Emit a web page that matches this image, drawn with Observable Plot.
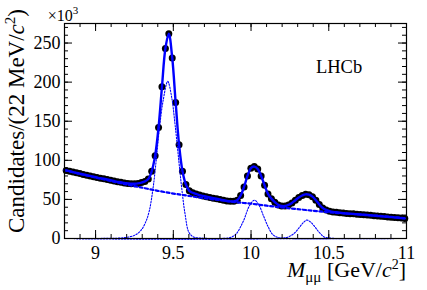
<!DOCTYPE html>
<html><head><meta charset="utf-8">
<script src="https://cdn.jsdelivr.net/npm/d3@7"></script>
<script src="https://cdn.jsdelivr.net/npm/@observablehq/plot@0.6"></script>
<style>body{margin:0;background:#fff} svg{display:block}</style>
</head><body><div id="chart"></div>
<script>
// Histogram: 100 bins of 22 MeV from 8.8 to 11.0 GeV, counts in units of 10^3
const binLow = 8.8;
const binWidth = 0.022;
const counts = [
  87, 86, 85, 84, 83, 82, 81, 80, 79, 78,
  77, 76.5, 75.5, 74.5, 73.5, 72.5, 72, 71, 70.5, 70,
  70, 70.5, 71.5, 73, 76, 86, 106, 142, 194, 243,
  262, 231, 174, 120, 86, 69, 61, 58.5, 57, 55.5,
  54.5, 53.5, 52.5, 51.5, 51, 50, 49, 48, 47.5, 47.5,
  49, 55, 66, 80, 90, 92, 89, 80, 68, 57,
  51, 46.5, 43, 41.5, 41.5, 43, 45.5, 49, 52.5, 55,
  56.5, 56, 53.5, 49, 43.5, 39, 36.5, 35, 34, 33.5,
  33, 32.5, 32, 31.8, 31.5, 31, 30.7, 30.3, 30, 29.6,
  29.2, 28.8, 28.4, 28, 27.6, 27.3, 26.9, 26.5, 26.1, 25.7
];
// Background component (dashed)
const bgMass   = [8.8, 8.9, 9.0, 9.1, 9.2, 9.3, 9.4, 9.5, 9.6, 9.7, 9.8, 9.9, 10.0, 10.1, 10.2, 10.3, 10.4, 10.5, 10.6, 10.7, 10.8, 10.9, 11.0];
const bgValues = [87.5, 82.5, 78, 73.5, 69, 65, 61, 57.5, 54.5, 51.5, 49, 46.5, 44.5, 42, 39.7, 37.5, 35.5, 33.5, 32, 30.7, 29.3, 27.8, 25.6];
// Signal components (dotted)
const sig1Mass   = [8.8, 9.1, 9.15, 9.2, 9.25, 9.29, 9.32, 9.345, 9.37, 9.39, 9.41, 9.435, 9.464, 9.49, 9.51, 9.53, 9.552, 9.575, 9.6, 9.63, 9.7, 9.8, 11];
const sig1Values = [0, 0.2, 0.5, 1.5, 4, 10, 20, 35, 65, 100, 140, 177, 201, 180, 148, 110, 68, 32, 8, 2, 0.3, 0, 0];
const sig2Mass   = [8.8, 9.8, 9.86, 9.9, 9.95, 9.99, 10.022, 10.05, 10.08, 10.11, 10.14, 10.18, 10.25, 11];
const sig2Values = [0, 0, 1, 5, 22, 42, 49, 43, 29, 15, 5, 1, 0, 0];
const sig3Mass   = [8.8, 10.2, 10.24, 10.28, 10.31, 10.335, 10.358, 10.38, 10.41, 10.44, 10.47, 10.52, 10.6, 11];
const sig3Values = [0, 0.5, 2, 7, 14, 20, 23.5, 21.5, 15, 7.5, 2, 0.3, 0, 0];

const xTicks = [9, 9.5, 10, 10.5, 11];
const xTickLabels = ["9", "9.5", "10", "10.5", "11"];
const yTicks = [0, 50, 100, 150, 200, 250];
const yTickLabels = ["0", "50", "100", "150", "200", "250"];

const W = 427, H = 290, mL = 64, mR = 21, mT = 23, mB = 52;
const innerW = W - mL - mR, innerH = H - mT - mB;

const data = counts.map((v, i) => ({m: binLow + binWidth * (i + 0.5), v}));
const bg = bgMass.map((m, i) => ({m, v: bgValues[i]}));
const s1 = sig1Mass.map((m, i) => ({m, v: sig1Values[i]}));
const s2 = sig2Mass.map((m, i) => ({m, v: sig2Values[i]}));
const s3 = sig3Mass.map((m, i) => ({m, v: sig3Values[i]}));

const xMinor = d3.range(88, 111).map(d => d / 10);
const yMinor = d3.range(0, 28).map(d => d * 10);

const font = "'Liberation Serif', 'Times New Roman', serif";
const blue = "#0000ff";

const chart = Plot.plot({
  width: W, height: H,
  marginLeft: mL, marginRight: mR, marginTop: mT, marginBottom: mB,
  x: {domain: [8.8, 11]},
  y: {domain: [0, 275]},
  style: {fontFamily: font, fontSize: "18px", background: "white", color: "black"},
  marks: [
    Plot.dot(data, {x: "m", y: "v", r: 3.5, fill: "black", stroke: "none"}),
    Plot.line(s1, {x: "m", y: "v", stroke: blue, strokeWidth: 1.1, strokeDasharray: "1.5,1.5", curve: "catmull-rom"}),
    Plot.line(s2, {x: "m", y: "v", stroke: blue, strokeWidth: 1.1, strokeDasharray: "1.5,1.5", curve: "catmull-rom"}),
    Plot.line(s3, {x: "m", y: "v", stroke: blue, strokeWidth: 1.1, strokeDasharray: "1.5,1.5", curve: "catmull-rom"}),
    Plot.line(bg, {x: "m", y: "v", stroke: blue, strokeWidth: 2.2, strokeDasharray: "3,2.5", curve: "catmull-rom"}),
    Plot.line(data, {x: "m", y: "v", stroke: blue, strokeWidth: 2.4, curve: "catmull-rom"}),
    Plot.frame({stroke: "black", strokeWidth: 1.2}),
    // inward ticks, ROOT style, on all four sides
    Plot.tickX(xMinor, {x: d => d, insetTop: innerH - 4, stroke: "black"}),
    Plot.tickX(xTicks, {x: d => d, insetTop: innerH - 8, stroke: "black"}),
    Plot.tickX(xMinor, {x: d => d, insetBottom: innerH - 4, stroke: "black"}),
    Plot.tickX(xTicks, {x: d => d, insetBottom: innerH - 8, stroke: "black"}),
    Plot.tickY(yMinor, {y: d => d, insetRight: innerW - 4, stroke: "black"}),
    Plot.tickY(yTicks, {y: d => d, insetRight: innerW - 8, stroke: "black"}),
    Plot.tickY(yMinor, {y: d => d, insetLeft: innerW - 4, stroke: "black"}),
    Plot.tickY(yTicks, {y: d => d, insetLeft: innerW - 8, stroke: "black"}),
    Plot.axisX({ticks: xTicks, tickSize: 0, tickPadding: 8, tickFormat: d => xTickLabels[xTicks.indexOf(d)], label: null, anchor: "bottom"}),
    Plot.axisY({ticks: yTicks, tickSize: 0, tickPadding: 4, tickFormat: d => yTickLabels[yTicks.indexOf(d)], label: null, anchor: "left"})
  ]
});
document.getElementById("chart").appendChild(chart);

const svg = d3.select(chart);
// y-axis title
const yt = svg.append("text")
  .attr("transform", "translate(24,9) rotate(-90)")
  .attr("text-anchor", "end")
  .style("font-family", font).style("font-size", "23px").attr("fill", "black");
yt.append("tspan").text("Candidates/(22 MeV/");
yt.append("tspan").style("font-style", "italic").text("c");
yt.append("tspan").style("font-size", "15px").attr("dy", -9).text("2");
yt.append("tspan").style("font-size", "23px").attr("dy", 9).text(")");

// x-axis title
const xt = svg.append("text")
  .attr("x", 406).attr("y", 277)
  .attr("text-anchor", "end")
  .style("font-family", font).style("font-size", "22px").attr("fill", "black");
xt.append("tspan").style("font-style", "italic").text("M");
xt.append("tspan").style("font-size", "15px").attr("dy", 5).text("μμ");
xt.append("tspan").style("font-size", "22px").attr("dy", -5).text(" [GeV/");
xt.append("tspan").style("font-style", "italic").text("c");
xt.append("tspan").style("font-size", "14px").attr("dy", -8).text("2");
xt.append("tspan").style("font-size", "22px").attr("dy", 8).text("]");

// exponent
const ex = svg.append("text").attr("x", 63).attr("y", 21)
  .style("font-family", font).style("font-size", "16px").attr("fill", "black");
ex.append("tspan").text("×10");
ex.append("tspan").style("font-size", "11px").attr("dy", -7).text("3");

// LHCb label
svg.append("text").attr("x", 339).attr("y", 73)
  .style("font-family", font).style("font-size", "18.5px").attr("fill", "black").text("LHCb");
</script>
</body></html>
